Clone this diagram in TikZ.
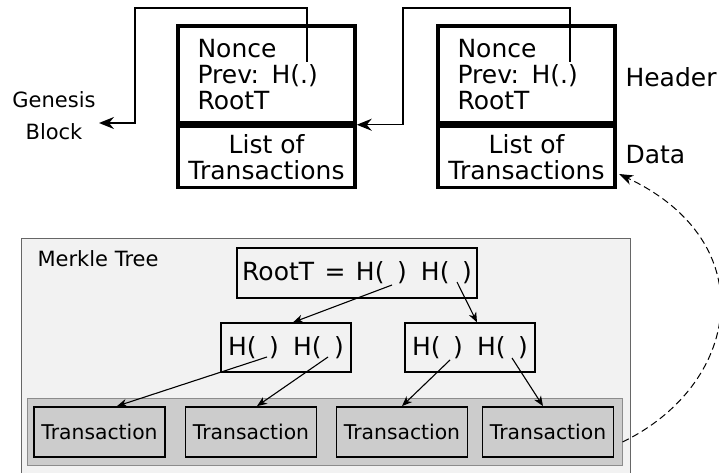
\documentclass[tikz,border=0pt]{standalone}
\usepackage{fontspec}
\setmainfont{DejaVu Sans}
\usetikzlibrary{arrows.meta}
\newcommand{\hh}{H(\hspace{0.5em})\hspace{0.25em} H(\hspace{0.5em})}
\begin{document}
\begin{tikzpicture}[x=1pt,y=-1pt,
  blk/.style={draw,line width=3.5pt,rectangle,inner sep=0pt,minimum width=177pt},
  big/.style={font=\fontsize{25}{26}\selectfont},
  arr/.style={line width=1.5pt,-{Stealth[length=15pt,width=12pt,inset=5pt]}},
  tarr/.style={line width=1.1pt,-{Stealth[length=10pt,width=8pt,inset=3pt]}},
  hbox/.style={draw,line width=1.3pt,rectangle,inner sep=0pt,minimum width=130pt,minimum height=49pt,font=\fontsize{25}{26}\selectfont},
  tx/.style={draw,line width=1.8pt,fill=black!20,rectangle,inner sep=0pt,minimum width=131pt,minimum height=50pt,font=\fontsize{20.3}{22}\selectfont}]
\useasboundingbox (0,0) rectangle (719,473);
% Merkle region
\path[draw=black!60,fill=black!5,line width=1pt] (21,238) rectangle (630,490);
\node[anchor=west,font=\fontsize{21}{24}\selectfont] (mt) at (34,259) {Merkle Tree};
\node[draw=black!45,fill=black!20,line width=1pt,rectangle,minimum width=595pt,minimum height=67pt] (row) at (324.5,431.5) {};
\node[draw,line width=2pt,rectangle,inner sep=0pt,minimum width=240pt,minimum height=50pt,font=\fontsize{25}{26}\selectfont] (root) at (357,273) {RootT\hspace{0.1em} =\hspace{0.1em} \hh};
\node[hbox] (hl) at (286,347.5) {\hh};
\node[hbox] (hr) at (470,347.5) {\hh};
\node[tx] (t1) at (99.5,432) {Transaction};
\node[tx] (t2) at (251,432) {Transaction};
\node[tx] (t3) at (402,432) {Transaction};
\node[tx] (t4) at (548,432) {Transaction};
\coordinate (r1) at (392,285);
\coordinate (r2) at (457,282);
\coordinate (l1) at (267,357);
\coordinate (l2) at (328,357);
\coordinate (m1) at (450,360);
\coordinate (m2) at (512,358);
\draw[tarr] (r1) -- (hl.north -| 293,0);
\draw[tarr] (r2) -- (hr.north -| 477,0);
\draw[tarr] (l1) -- (t1.north -| 117,0);
\draw[tarr] (l2) -- (t2.north -| 257,0);
\draw[tarr] (m1) -- (t3.north -| 402,0);
\draw[tarr] (m2) -- (t4.north -| 543,0);
% Blocks
\node[blk,minimum height=97pt,big,text width=138pt,align=left] (b1h) at (266.5,74.5) {Nonce\\Prev: H(.)\\RootT};
\node[blk,minimum height=61pt,big,align=center,anchor=north] (b1d) at (b1h.south) {List of\\Transactions};
\node[blk,minimum height=97pt,big,text width=138pt,align=left] (b2h) at (526.5,74.5) {Nonce\\Prev: H(.)\\RootT};
\node[blk,minimum height=61pt,big,align=center,anchor=north] (b2d) at (b2h.south) {List of\\Transactions};
\node[big,anchor=west] (hdr) at (622,77) {Header};
\node[big,anchor=west] (dat) at (622,155) {Data};
\node[font=\fontsize{21}{32}\selectfont,align=center] (gen) at (54,116) {Genesis\\Block};
\coordinate (g) at (99,123);
\coordinate (p1) at (307,62);
\coordinate (c1) at (135,8);
\coordinate (p2) at (570,62);
\coordinate (c2) at (403,8);
\draw[arr] (p1) |- (c1) |- (g);
\draw[arr] (p2) |- (c2) |- (b1d.north east);
\draw[line width=1pt,dash pattern=on 7pt off 4pt,-{Stealth[length=14pt,width=10pt,inset=4pt]}] (row.east |- 0,442) .. controls (740,385) and (765,243) .. (619,174);
\end{tikzpicture}
\end{document}
